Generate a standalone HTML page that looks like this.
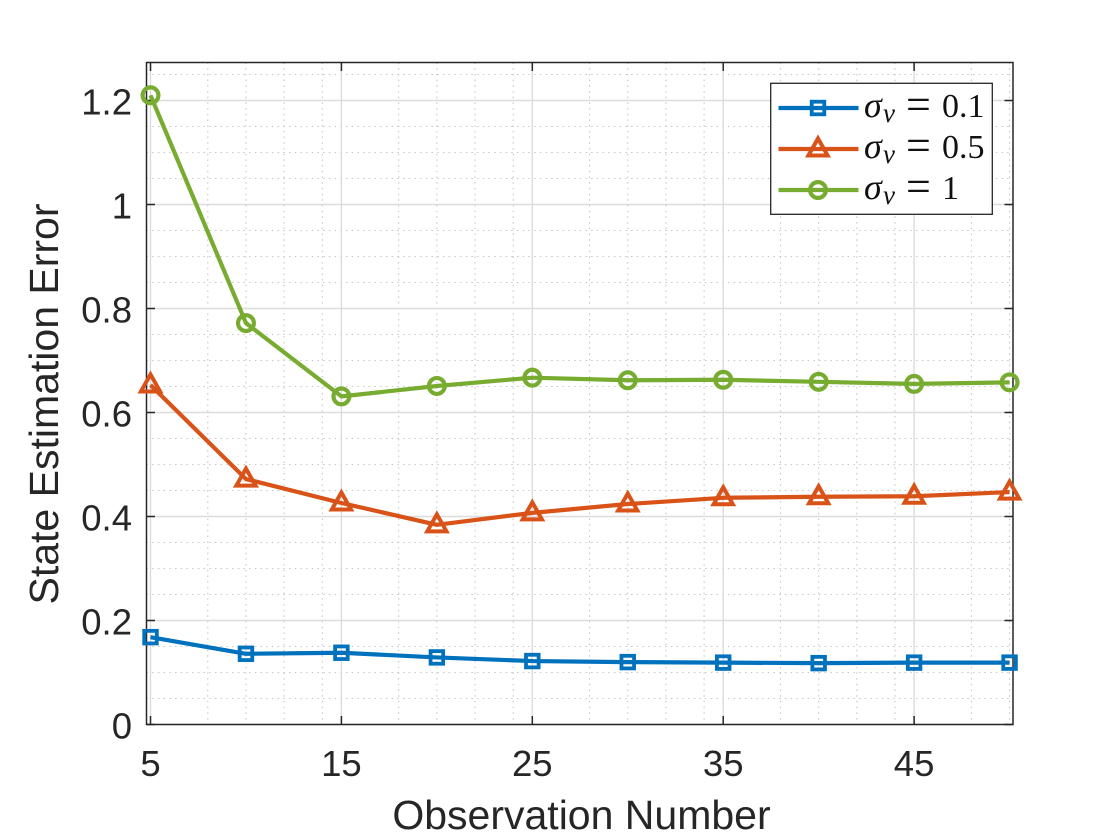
<!DOCTYPE html>
<html lang="en">
<head>
<meta charset="utf-8">
<title>State Estimation Error</title>
<style>
html,body{margin:0;padding:0;background:#fff;width:1120px;height:840px;overflow:hidden}
svg{display:block}
text{font-family:"Liberation Sans",sans-serif;fill:#262626}
.m{font-family:"Liberation Serif",serif;fill:#111}
</style>
</head>
<body>
<svg id="chart" width="1120" height="840" viewBox="0 0 1120 840" xmlns="http://www.w3.org/2000/svg"></svg>
<script>
const observations = [5, 10, 15, 20, 25, 30, 35, 40, 45, 50];
const errorSigma01 = [0.168, 0.136, 0.138, 0.129, 0.122, 0.120, 0.119, 0.118, 0.119, 0.119];
const errorSigma05 = [0.653, 0.472, 0.426, 0.384, 0.407, 0.424, 0.436, 0.438, 0.439, 0.447];
const errorSigma1 = [1.210, 0.772, 0.631, 0.651, 0.667, 0.662, 0.663, 0.659, 0.655, 0.658];
const xTicks = [5, 15, 25, 35, 45];
const yTicks = [0, 0.2, 0.4, 0.6, 0.8, 1, 1.2];
const xMinorTicks = [8, 10, 12, 14, 18, 20, 22, 24, 28, 30, 32, 34, 38, 40, 42, 44, 48, 50];
const yMinorTicks = [0.05, 0.1, 0.15, 0.25, 0.3, 0.35, 0.45, 0.5, 0.55, 0.65, 0.7, 0.75, 0.85, 0.9, 0.95, 1.05, 1.1, 1.15, 1.25];
const legendLabels = ["0.1", "0.5", "1"];

const svg = document.getElementById('chart');
const NS = 'http://www.w3.org/2000/svg';
const L = 146.5, R = 1013, T = 62.5, B = 724.5;
const xMin = 4.79, xMax = 50.18, yMin = 0, yMax = 1.2731;
const sx = v => L + (v - xMin) / (xMax - xMin) * (R - L);
const sy = v => B - (v - yMin) / (yMax - yMin) * (B - T);
function mk(tag, attrs, parent) {
  const e = document.createElementNS(NS, tag);
  for (const k in attrs) e.setAttribute(k, attrs[k]);
  (parent || svg).appendChild(e);
  return e;
}
const BLUE = '#0072BD', ORANGE = '#D95319', GREEN = '#77AC30';

/* grid */
const gridGroup = mk('g', {});


xMinorTicks.forEach(v => mk('line', {x1: sx(v), x2: sx(v), y1: T, y2: B, stroke: '#c6c6c6', 'stroke-width': 1.1, 'stroke-dasharray': '1.5 4.2'}, gridGroup));
yMinorTicks.forEach(v => mk('line', {x1: L, x2: R, y1: sy(v), y2: sy(v), stroke: '#c6c6c6', 'stroke-width': 1.1, 'stroke-dasharray': '1.5 4.2'}, gridGroup));
xTicks.forEach(v => mk('line', {x1: sx(v), x2: sx(v), y1: T, y2: B, stroke: '#dcdcdc', 'stroke-width': 1.4}, gridGroup));
yTicks.forEach(v => mk('line', {x1: L, x2: R, y1: sy(v), y2: sy(v), stroke: '#dcdcdc', 'stroke-width': 1.4}, gridGroup));

/* axes box and ticks */
const axesGroup = mk('g', {});


mk('rect', {x: L, y: T, width: R - L, height: B - T, fill: 'none', stroke: '#262626', 'stroke-width': 1.5}, axesGroup);
xTicks.forEach(v => {
  mk('line', {x1: sx(v), x2: sx(v), y1: B, y2: B - 8.5, stroke: '#262626', 'stroke-width': 1.5}, axesGroup);
  mk('line', {x1: sx(v), x2: sx(v), y1: T, y2: T + 8.5, stroke: '#262626', 'stroke-width': 1.5}, axesGroup);
});
yTicks.forEach(v => {
  mk('line', {x1: L, x2: L + 8.5, y1: sy(v), y2: sy(v), stroke: '#262626', 'stroke-width': 1.5}, axesGroup);
  mk('line', {x1: R, x2: R - 8.5, y1: sy(v), y2: sy(v), stroke: '#262626', 'stroke-width': 1.5}, axesGroup);
});

/* tick labels */
xTicks.forEach(v => {
  const t = mk('text', {x: sx(v), y: 776, 'text-anchor': 'middle', 'font-size': 36.5});
  
  
  t.textContent = String(v);
});
yTicks.forEach(v => {
  const t = mk('text', {x: 132, y: sy(v) + 14, 'text-anchor': 'end', 'font-size': 36.5});
  
  
  t.textContent = String(v);
});

/* axis titles */
const xTitle = mk('text', {x: 581.5, y: 829, 'text-anchor': 'middle', 'font-size': 41});


xTitle.textContent = 'Observation Number';
const yTitle = mk('text', {x: 0, y: 0, 'text-anchor': 'middle', 'font-size': 41, transform: 'translate(58 404) rotate(-90)'});


yTitle.textContent = 'State Estimation Error';

/* markers */
function marker(kind, cx, cy, color, parent) {
  if (kind === 'square') {
    mk('rect', {x: cx - 6.3, y: cy - 6.3, width: 12.6, height: 12.6, fill: 'none', stroke: color, 'stroke-width': 3.8}, parent);
  } else if (kind === 'triangle') {
    mk('polygon', {points: `${cx},${cy - 10.5} ${cx + 9.6},${cy + 6.5} ${cx - 9.6},${cy + 6.5}`, fill: 'none', stroke: color, 'stroke-width': 4}, parent);
  } else {
    mk('circle', {cx: cx, cy: cy, r: 7.9, fill: 'none', stroke: color, 'stroke-width': 4.2}, parent);
  }
}

/* series */
function drawSeries(name, values, color, kind) {
  const g = mk('g', {});
  
  
  const pts = observations.map((o, i) => sx(o) + ',' + sy(values[i])).join(' ');
  mk('polyline', {points: pts, fill: 'none', stroke: color, 'stroke-width': 4.2, 'stroke-linejoin': 'round'}, g);
  observations.forEach((o, i) => marker(kind, sx(o), sy(values[i]), color, g));
}
drawSeries('series-sigma-0-1', errorSigma01, BLUE, 'square');
drawSeries('series-sigma-0-5', errorSigma05, ORANGE, 'triangle');
drawSeries('series-sigma-1', errorSigma1, GREEN, 'circle');

/* legend */
const legend = mk('g', {});


mk('rect', {x: 770.7, y: 83.3, width: 221.6, height: 131, fill: '#fff', stroke: '#262626', 'stroke-width': 1.3}, legend);
const legendColors = [BLUE, ORANGE, GREEN];
const legendKinds = ['square', 'triangle', 'circle'];
legendLabels.forEach((lab, i) => {
  const y = 108 + i * 41;
  const g = mk('g', {}, legend);
  
  
  mk('line', {x1: 778.5, x2: 858.5, y1: y, y2: y, stroke: legendColors[i], 'stroke-width': 4.2}, g);
  marker(legendKinds[i], 818, y, legendColors[i], g);
  const s = mk('text', {x: 864, y: y + 9, class: 'm', 'font-size': 36, 'font-style': 'italic'}, g);
  s.textContent = 'σ';
  const v = mk('text', {x: 883, y: y + 14, class: 'm', 'font-size': 27, 'font-style': 'italic'}, g);
  v.textContent = 'v';
  const e = mk('text', {x: 906, y: y + 11, class: 'm', 'font-size': 44}, g);
  e.textContent = '=';
  const n = mk('text', {x: 942, y: y + 9, class: 'm', 'font-size': 34}, g);
  n.textContent = lab;
});
</script>
</body>
</html>
